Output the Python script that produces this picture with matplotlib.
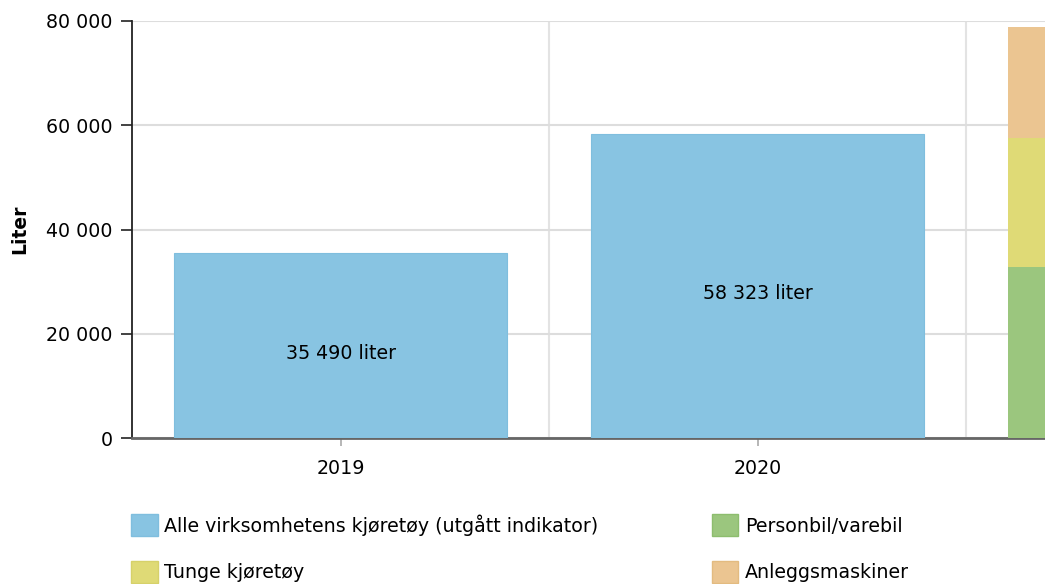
import matplotlib.pyplot as plt
import matplotlib.ticker as mticker
from matplotlib.patches import Patch
import numpy as np

# data
years = ['2019', '2020', '2021']
alle = [35490, 58323, 0]
personbil = [0, 0, 32800]
tunge = [0, 0, 24750]
anlegg = [0, 0, 21300]
y_ticks = [0, 20000, 40000, 60000, 80000]

c_blue = '#88c4e2'
c_green = '#9bc67e'
c_yellow = '#dfda76'
c_orange = '#ebc591'

plt.rcParams['font.family'] = ['DejaVu Sans']
fs = 13.7

fig = plt.figure(figsize=(10.45, 5.84), dpi=100)
W, H = 1045, 584
# plot area runs past the right edge, like the original screenshot
ax = fig.add_axes([132 / W, 146 / H, 1251 / W, 417 / H])

x = np.arange(len(years))
ax.bar(x, alle, width=0.8, color=c_blue, edgecolor='#7fbede', linewidth=0.8, zorder=3)
ax.bar(x, personbil, width=0.8, color=c_green, zorder=3)
ax.bar(x, tunge, width=0.8, bottom=personbil, color=c_yellow, zorder=3)
b3 = np.array(personbil) + np.array(tunge)
ax.bar(x, anlegg, width=0.8, bottom=b3, color=c_orange, zorder=3)

for i, v in enumerate(alle):
    if v > 0:
        ax.annotate(f"{v:,}".replace(',', ' ') + ' liter', (x[i], v / 2),
                    xytext=(0, -5.5), textcoords='offset points',
                    ha='center', va='center', fontsize=fs, color='black', zorder=4)

ax.set_xlim(-0.5, len(years) - 0.5)
ax.set_ylim(0, 80000)
ax.set_yticks(y_ticks)
ax.yaxis.set_major_formatter(mticker.FuncFormatter(lambda v, p: f"{v:,.0f}".replace(',', ' ')))
# only the categories inside the visible window get a tick label
ax.set_xticks(x[:2])
ax.set_xticklabels(years[:2])
ax.set_xticks(x[:-1] + 0.5, minor=True)

ax.grid(axis='y', color='#dddddd', linewidth=1.5, zorder=0)
ax.grid(axis='x', which='minor', color='#e3e3e3', linewidth=1.5, zorder=0)

for s in ['top', 'right']:
    ax.spines[s].set_visible(False)
ax.spines['left'].set_color('#222222')
ax.spines['left'].set_linewidth(1.3)
ax.spines['bottom'].set_color('#666666')
ax.spines['bottom'].set_linewidth(2)

ax.tick_params(axis='y', length=8, width=1.2, color='#222222', labelsize=fs, pad=6)
ax.tick_params(axis='x', which='major', length=6, width=1.2, color='#aaaaaa', labelsize=fs, pad=9)
ax.tick_params(axis='x', which='minor', length=0)

ax.set_ylabel('Liter', fontsize=13.5, fontweight='bold', labelpad=12)

handles = [
    Patch(facecolor=c_blue, edgecolor='#7fbede', label='Alle virksomhetens kjøretøy (utgått indikator)'),
    Patch(facecolor=c_yellow, edgecolor='#d6d16a', label='Tunge kjøretøy'),
    Patch(facecolor=c_green, edgecolor='#8dbd6e', label='Personbil/varebil'),
    Patch(facecolor=c_orange, edgecolor='#e3bb80', label='Anleggsmaskiner'),
]
fig.legend(handles=handles, ncol=2, loc='upper left', bbox_to_anchor=(131 / W, 1 - 514 / H),
           frameon=False, fontsize=fs, handlelength=1.4, handleheight=1.4,
           handletextpad=0.36, columnspacing=5.95, labelspacing=1.3, borderpad=0,
           borderaxespad=0)

fig.savefig('out.png', dpi=100)
